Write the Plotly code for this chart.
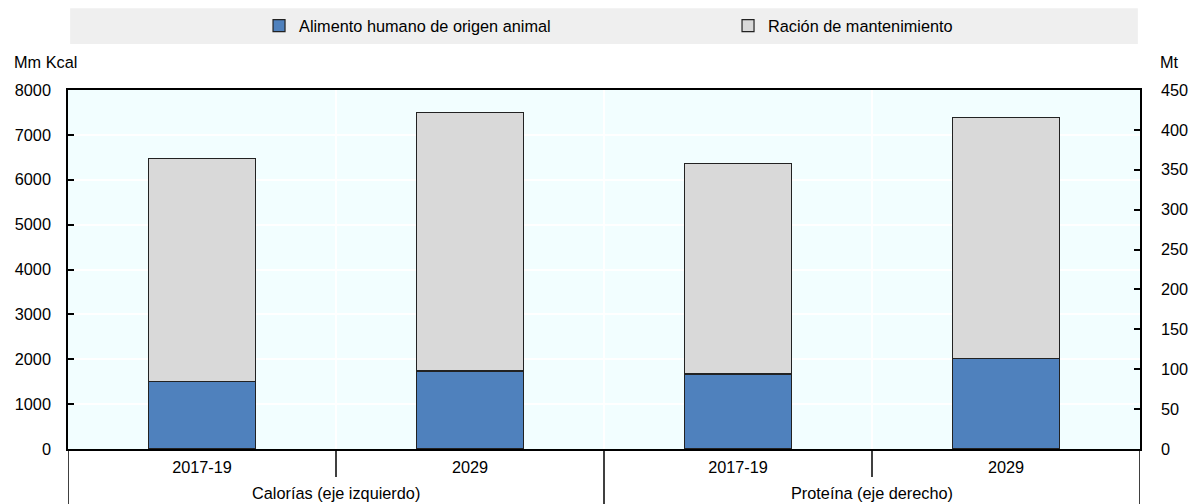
import plotly.graph_objects as go

# Categories
groups = ["Calorías (eje izquierdo)", "Proteína (eje derecho)"]
periods = ["2017-19", "2029"]

# Calories (left axis, Mm Kcal)
cal_food = [1500, 1740]
cal_maint = [4980, 5760]

# Protein (right axis, Mt)
prot_food = [94, 113]
prot_maint = [264, 303]

series_names = ["Alimento humano de origen animal", "Ración de mantenimiento"]
colors = ["#4f81bd", "#d9d9d9"]

left_ticks = list(range(0, 8001, 1000))
right_ticks = list(range(0, 451, 50))

FONT = "Liberation Sans, Arial, sans-serif"
FS = 16.3

# Slot index of every bar along x: one slot per (group, period)
n_per = len(periods)
slots = list(range(len(groups) * n_per))
x_cal = slots[0:n_per]
x_prot = slots[n_per:2 * n_per]
tick_text = periods * len(groups)

# Boundaries between slots; group boundaries get full-height dividers
inner_bounds = [s + 0.5 for s in slots[:-1]]
group_bounds = [g * n_per - 0.5 for g in range(len(groups) + 1)]
short_bounds = [b for b in inner_bounds if b not in group_bounds]
group_centers = [g * n_per + (n_per - 1) / 2 for g in range(len(groups))]

fig = go.Figure()

bar_line = dict(color="#222222", width=1.2)

for i, (name, cal_vals, prot_vals) in enumerate(
    [(series_names[0], cal_food, prot_food), (series_names[1], cal_maint, prot_maint)]
):
    fig.add_trace(go.Bar(
        x=x_cal, y=cal_vals, name=name, legendgroup=name,
        marker=dict(color=colors[i], line=bar_line),
        width=0.4, yaxis="y", showlegend=True,
    ))
    fig.add_trace(go.Bar(
        x=x_prot, y=prot_vals, name=name, legendgroup=name,
        marker=dict(color=colors[i], line=bar_line),
        width=0.4, yaxis="y2", showlegend=False,
    ))

# Bottom of the figure in paper units (plot area is 359 px tall, 55 px below it)
plot_h = 504 - 90 - 55
bottom_paper = -55 / plot_h

shapes = [
    dict(type="rect", xref="paper", yref="paper",
         x0=0.002, x1=0.998, y0=1.128, y1=1.228,
         fillcolor="#efefef", line=dict(width=0), layer="below"),
]
for b in group_bounds:
    shapes.append(dict(type="line", xref="x", yref="paper",
                       x0=b, x1=b, y0=0, y1=bottom_paper,
                       line=dict(color="#000000", width=1.5)))
for b in short_bounds:
    shapes.append(dict(type="line", xref="x", yref="paper",
                       x0=b, x1=b, y0=0, y1=-28 / plot_h,
                       line=dict(color="#000000", width=1.5)))

annotations = [
    dict(text="Mm Kcal", xref="paper", yref="paper",
         x=-0.0525, y=1.078, xanchor="left", yanchor="middle",
         showarrow=False, font=dict(size=FS)),
    dict(text="Mt", xref="paper", yref="paper",
         x=1.0168, y=1.078, xanchor="left", yanchor="middle",
         showarrow=False, font=dict(size=FS)),
]
for g, c in zip(groups, group_centers):
    annotations.append(dict(text=g, xref="x", yref="paper",
                            x=c, y=-44 / plot_h, xanchor="center", yanchor="middle",
                            showarrow=False, font=dict(size=FS)))

fig.update_layout(
    width=1189, height=504,
    margin=dict(l=68, r=49, t=90, b=55, autoexpand=False),
    barmode="stack",
    paper_bgcolor="white",
    plot_bgcolor="#f2feff",
    font=dict(family=FONT, size=FS, color="#000000"),
    showlegend=True,
    legend=dict(
        orientation="h", x=0.6157, xanchor="center", y=1.178, yanchor="middle",
        bgcolor="rgba(0,0,0,0)", font=dict(size=FS),
        itemwidth=30, entrywidth=424, traceorder="normal",
    ),
    xaxis=dict(
        range=[slots[0] - 0.5, slots[-1] + 0.5], automargin=False,
        tickvals=slots, ticktext=tick_text, ticks="",
        showline=True, linecolor="#000000", linewidth=1.5, mirror=True,
        showgrid=False, zeroline=False,
        minor=dict(tickvals=inner_bounds, ticks="", showgrid=True,
                   gridcolor="#ffffff", gridwidth=2),
        tickfont=dict(size=FS), ticklabelstandoff=3,
    ),
    yaxis=dict(
        range=[0, 8000], tickvals=left_ticks, automargin=False,
        showline=True, linecolor="#000000", linewidth=1.5,
        ticks="inside", ticklen=6, tickcolor="#000000", tickwidth=1.5,
        showgrid=True, gridcolor="#ffffff", gridwidth=2,
        zeroline=False, ticklabelstandoff=12,
    ),
    yaxis2=dict(
        range=[0, 450], tickvals=right_ticks, automargin=False,
        overlaying="y", side="right",
        showline=True, linecolor="#000000", linewidth=1.5,
        ticks="inside", ticklen=6, tickcolor="#000000", tickwidth=1.5,
        showgrid=False, zeroline=False, ticklabelstandoff=16,
    ),
    shapes=shapes,
    annotations=annotations,
)

fig.write_html("out.html")
